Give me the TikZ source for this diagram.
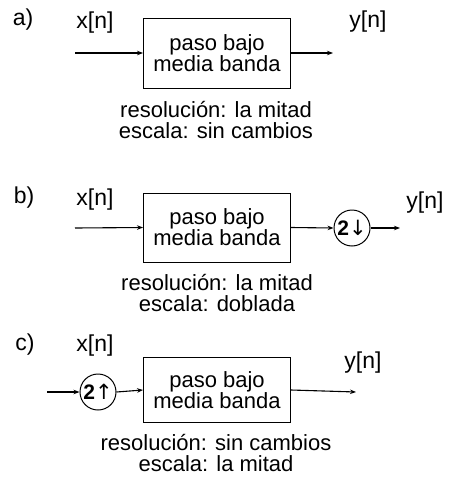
\documentclass[tikz,border=0pt]{standalone}
\usepackage{fontspec}
\setmainfont{Liberation Sans}
\newfontfamily\symfont{DejaVu Sans}
\usetikzlibrary{arrows.meta}
\tikzset{
  blk/.style={draw, line width=0.9pt, minimum width=147pt, minimum height=#1, inner sep=0pt, align=center, font=\fontsize{22}{21}\selectfont},
  blk/.default=69pt,
  circ/.style={draw, circle, line width=1pt, minimum size=36pt, inner sep=0pt, font=\fontsize{21}{21}\selectfont\bfseries},
  lbl/.style={inner sep=0pt, font=\fontsize{23}{23}\selectfont},
  txt/.style={inner sep=0pt, align=center, font=\fontsize{22}{21.5}\selectfont},
  arr/.style={line width=1.1pt, -{Stealth[length=6pt,width=4.5pt]}}
}
\begin{document}
\begin{tikzpicture}[x=1pt,y=-1pt]
\useasboundingbox (0,0) rectangle (451,482);
% a)
\node[lbl] (la) at (23,20) {a)};
\node[lbl] (xa) at (95,23) {x[n]};
\node[lbl] (ya) at (368,22) {y[n]};
\node[blk=70pt] (ba) at (217,53) {paso bajo\\media banda};
\coordinate (ina) at (75,53);
\coordinate (outa) at (333,53);
\draw[arr] (ina) -- (ba.west);
\draw[arr] (ba.east) -- (outa);
\node[txt] (ta) at (216,120) {resolución: la mitad\\escala: sin cambios};
% b)
\node[lbl] (lb) at (24,198) {b)};
\node[lbl] (xb) at (95,200) {x[n]};
\node[lbl] (yb) at (425,203) {y[n]};
\node[blk=69pt] (bb) at (217,227.5) {paso bajo\\media banda};
\node[circ] (cb) at (352,228) {2{\symfont\mdseries ↓}};
\coordinate (inb) at (75,228);
\coordinate (outb) at (400,228);
\draw[arr] (inb) -- (bb.west);
\draw[arr] (bb.east) -- (cb.west);
\draw[arr] (cb.east) -- (outb);
\node[txt] (tb) at (217,293) {resolución: la mitad\\escala: doblada};
% c)
\node[lbl] (lc) at (25,345) {c)};
\node[lbl] (xc) at (95,346) {x[n]};
\node[lbl] (yc) at (363,363) {y[n]};
\node[blk=65pt] (bc) at (217,390) {paso bajo\\media banda};
\node[circ] (cc) at (98,392) {2{\symfont\mdseries ↑}};
\coordinate (inc) at (47,392);
\coordinate (outc) at (356,392);
\draw[arr] (inc) -- (cc.west);
\draw[arr] (cc.east) -- (bc.west);
\draw[arr] (bc.east) -- (outc);
\node[txt] (tc) at (216,453) {resolución: sin cambios\\escala: la mitad};
\end{tikzpicture}
\end{document}
